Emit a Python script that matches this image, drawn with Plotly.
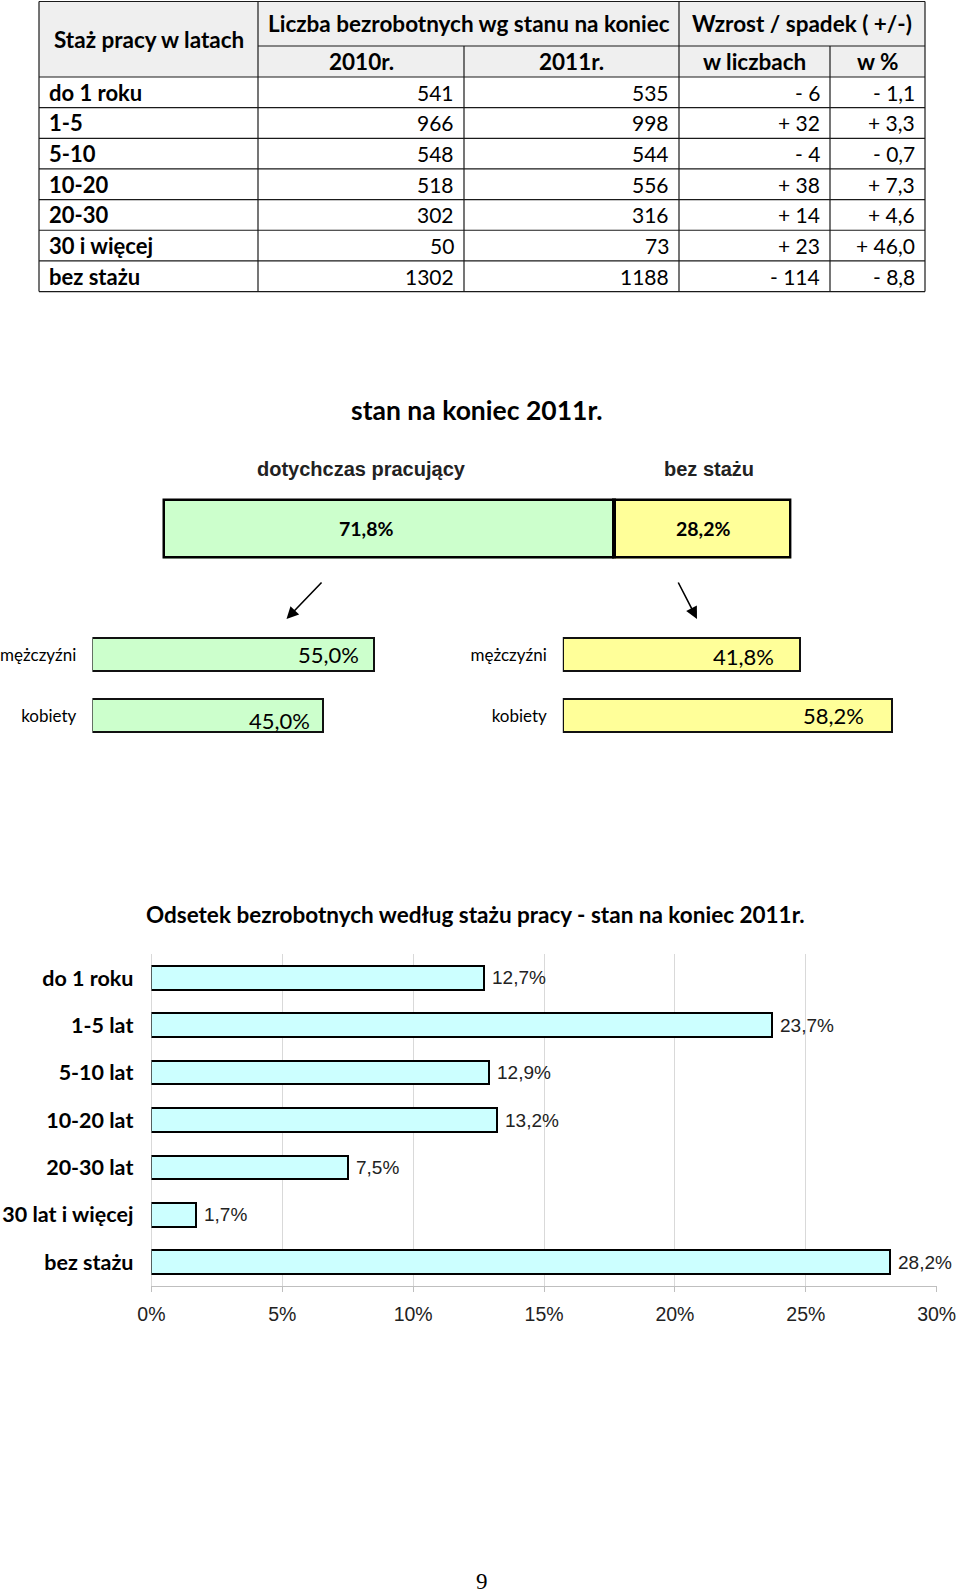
import plotly.graph_objects as go

W, H = 960, 1593

# ---------------- data ----------------
table_header_top = ["Staż pracy w latach", "Liczba bezrobotnych wg stanu na koniec", "Wzrost / spadek ( +/-)"]
table_header_sub = ["2010r.", "2011r.", "w liczbach", "w %"]
tenure_rows = ["do 1 roku", "1-5", "5-10", "10-20", "20-30", "30 i więcej", "bez stażu"]
count_2010 = [541, 966, 548, 518, 302, 50, 1302]
count_2011 = [535, 998, 544, 556, 316, 73, 1188]
change_abs = [-6, 32, -4, 38, 14, 23, -114]
change_pct = [-1.1, 3.3, -0.7, 7.3, 4.6, 46.0, -8.8]

split_title = "stan na koniec 2011r."
split_labels = ["dotychczas pracujący", "bez stażu"]
split_share = [71.8, 28.2]

gender_labels = ["mężczyźni", "kobiety"]
gender_worked = [55.0, 45.0]
gender_nostaz = [41.8, 58.2]

chart_title = "Odsetek bezrobotnych według stażu pracy - stan na koniec 2011r."
chart_categories = ["do 1 roku", "1-5 lat", "5-10 lat", "10-20 lat", "20-30 lat", "30 lat i więcej", "bez stażu"]
chart_values = [12.7, 23.7, 12.9, 13.2, 7.5, 1.7, 28.2]
chart_ticks = [0, 5, 10, 15, 20, 25, 30]

page_number = "9"

# ---------------- helpers ----------------
def px(x):
    return x / W

def py(y):
    return 1 - y / H

def pct_text(v):
    return f"{v:.1f}%".replace(".", ",")

def signed(v, fmt="{:d}"):
    s = "+ " if v > 0 else "- "
    return s + fmt.format(abs(v)).replace(".", ",")

CAL = "Lato"
ARI = "Liberation Sans"

fig = go.Figure()
annotations = []
shapes = []

def ann(text, x, y, xanchor="center", size=18, family=CAL, bold=False, color="#000"):
    annotations.append(dict(
        text=f"<b>{text}</b>" if bold else text,
        x=px(x), y=py(y), xref="paper", yref="paper",
        xanchor=xanchor, yanchor="middle", showarrow=False,
        font=dict(family=family, size=size, color=color)))

def line(x0, y0, x1, y1, color="#1a1a1a", width=1.2):
    shapes.append(dict(type="line", xref="paper", yref="paper",
                       x0=px(x0), y0=py(y0), x1=px(x1), y1=py(y1),
                       line=dict(color=color, width=width)))

# ---------------- table ----------------
L, R, T = 39, 925, 1.5
H1, H2 = 46, 77
ROWH = 30.65
cols = [L, 258, 464, 679, 830, R]
bottom = H2 + ROWH * len(tenure_rows)

shapes.append(dict(type="rect", xref="paper", yref="paper",
                   x0=px(L), y0=py(H2), x1=px(R), y1=py(T),
                   fillcolor="#efefef", line=dict(width=0), layer="below"))
line(L, T, R, T); line(L, bottom, R, bottom)
line(L, T, L, bottom); line(R, T, R, bottom)
line(cols[1], T, cols[1], bottom)
line(cols[3], T, cols[3], bottom)
line(cols[2], H1, cols[2], bottom)
line(cols[4], H1, cols[4], bottom)
line(cols[1], H1, R, H1)
line(L, H2, R, H2)
for i in range(1, len(tenure_rows)):
    yy = H2 + ROWH * i
    line(L, yy, R, yy)

HS = 22.5
ann(table_header_top[0], (cols[0] + cols[1]) / 2, (T + H2) / 2, bold=True, size=HS)
ann(table_header_top[1], (cols[1] + cols[3]) / 2, (T + H1) / 2, bold=True, size=HS)
ann(table_header_top[2], (cols[3] + cols[5]) / 2, (T + H1) / 2, bold=True, size=HS)
for j, t in enumerate(table_header_sub):
    ann(t, (cols[j + 1] + cols[j + 2]) / 2, (H1 + H2) / 2, bold=True, size=HS)

for i, lab in enumerate(tenure_rows):
    yc = H2 + ROWH * (i + 0.5)
    ann(lab, L + 8, yc, xanchor="left", bold=True, size=22)
    vals = [str(count_2010[i]), str(count_2011[i]),
            signed(change_abs[i]), signed(change_pct[i], "{:.1f}")]
    for j, v in enumerate(vals):
        ann(v, cols[j + 2] - 8, yc, xanchor="right", size=21)

# ---------------- split bar ----------------
ann(split_title, 477, 410, bold=True, size=26.5)
ann(split_labels[0], 361, 469, family=ARI, bold=True, size=20, color="#222")
ann(split_labels[1], 709, 469, family=ARI, bold=True, size=20, color="#222")

split_colors = ["#ccffcc", "#ffff99"]
split_text_x = [366, 703]
for lab, v, c, tx in zip(split_labels, split_share, split_colors, split_text_x):
    fig.add_trace(go.Bar(
        y=["s"], x=[v], orientation="h", width=1,
        marker=dict(color=c, line=dict(color="#000", width=4.5)),
        xaxis="x", yaxis="y", hoverinfo="skip"))
    ann(pct_text(v), tx, 528, bold=True, size=19.5)

# arrows
for (hx, hy, tx, ty) in [(286.5, 619, 323, 581), (697, 619, 677.5, 581)]:
    annotations.append(dict(x=px(hx), y=py(hy), xref="paper", yref="paper",
                            ax=tx - hx, ay=ty - hy, text="", showarrow=True,
                            arrowhead=2, arrowsize=1.5, arrowwidth=1.6,
                            arrowcolor="#000", standoff=0, startstandoff=0))

# ---------------- gender bars ----------------
fig.add_trace(go.Bar(
    y=gender_labels, x=gender_worked, orientation="h", width=0.55,
    marker=dict(color="#ccffcc", line=dict(color="#111", width=2)),
    xaxis="x2", yaxis="y2", hoverinfo="skip"))
fig.add_trace(go.Bar(
    y=gender_labels, x=gender_nostaz, orientation="h", width=0.55,
    marker=dict(color="#ffff99", line=dict(color="#111", width=2)),
    xaxis="x3", yaxis="y3", hoverinfo="skip"))

left_pad = [13, 11]
left_ys = [0, -5]
right_pad = [24, 26]
right_ys = [-2, 0]
for i, g in enumerate(gender_labels):
    annotations.append(dict(x=gender_worked[i], y=g, xref="x2", yref="y2",
                            text=pct_text(gender_worked[i]), showarrow=False,
                            xanchor="right", xshift=-left_pad[i], yshift=left_ys[i],
                            font=dict(family=CAL, size=22, color="#000")))
    annotations.append(dict(x=gender_nostaz[i], y=g, xref="x3", yref="y3",
                            text=pct_text(gender_nostaz[i]), showarrow=False,
                            xanchor="right", xshift=-right_pad[i], yshift=right_ys[i],
                            font=dict(family=CAL, size=22, color="#000")))

# ---------------- bottom chart ----------------
ann(chart_title, 475, 914, bold=True, size=22.5)
fig.add_trace(go.Bar(
    y=chart_categories, x=chart_values, orientation="h", width=0.5,
    marker=dict(color="#ccffff", line=dict(color="#000", width=2)),
    xaxis="x4", yaxis="y4", hoverinfo="skip"))
for c, v in zip(chart_categories, chart_values):
    annotations.append(dict(x=v, y=c, xref="x4", yref="y4", text=pct_text(v),
                            showarrow=False, xanchor="left", xshift=6,
                            font=dict(family=ARI, size=19, color="#222")))

ann(page_number, 481.5, 1581, family="Liberation Serif", size=23)

# ---------------- layout ----------------
GY_TOP, GY_BOT = 624.2, 746.2
hidden = dict(visible=False, fixedrange=True, automargin=False)
fig.update_layout(
    width=W, height=H, margin=dict(l=0, r=0, t=0, b=0, autoexpand=False), autosize=False,
    paper_bgcolor="white", plot_bgcolor="rgba(0,0,0,0)",
    showlegend=False, barmode="stack",
    shapes=shapes, annotations=annotations,
    xaxis=dict(domain=[px(162.5), px(791.4)], range=[0, 100], anchor="y", **hidden),
    yaxis=dict(domain=[py(558.5), py(498.5)], range=[-0.5, 0.5], anchor="x", type="category", **hidden),
    xaxis2=dict(domain=[px(92.4), px(92.4 + 5.118 * 60)], range=[0, 60], anchor="y2", **hidden),
    yaxis2=dict(domain=[py(GY_BOT), py(GY_TOP)], range=[-0.5, 1.5], anchor="x2",
                type="category", categoryorder="array", categoryarray=gender_labels[::-1],
                showgrid=False, zeroline=False, showline=False, ticks="", automargin=False,
                ticklabelstandoff=15, tickfont=dict(family=CAL, size=17, color="#000")),
    xaxis3=dict(domain=[px(562.8), px(562.8 + 5.663 * 62)], range=[0, 62], anchor="y3", **hidden),
    yaxis3=dict(domain=[py(GY_BOT), py(GY_TOP)], range=[-0.5, 1.5], anchor="x3",
                type="category", categoryorder="array", categoryarray=gender_labels[::-1],
                showgrid=False, zeroline=False, showline=False, ticks="", automargin=False,
                ticklabelstandoff=15, tickfont=dict(family=CAL, size=17, color="#000")),
    xaxis4=dict(domain=[px(151.4), px(936.7)], range=[0, 30], anchor="y4",
                tickmode="array", tickvals=chart_ticks,
                ticktext=[f"{t}%" for t in chart_ticks],
                showgrid=True, gridcolor="#d9d9d9", automargin=False,
                zeroline=True, zerolinecolor="#d9d9d9", zerolinewidth=1,
                showline=True, linecolor="#bfbfbf", linewidth=1,
                ticks="outside", ticklen=5, tickcolor="#bfbfbf",
                ticklabelstandoff=6,
                tickfont=dict(family=ARI, size=19.5, color="#222"), fixedrange=True),
    yaxis4=dict(domain=[py(1285.7), py(954.3)], range=[6.5, -0.5], anchor="x4",
                type="category", categoryorder="array", categoryarray=chart_categories,
                showgrid=False, zeroline=False, showline=False, ticks="", automargin=False,
                ticklabelstandoff=17,
                tickfont=dict(family=CAL, size=21.5, color="#000", weight="bold"), fixedrange=True),
)

fig.write_html("out.html")
